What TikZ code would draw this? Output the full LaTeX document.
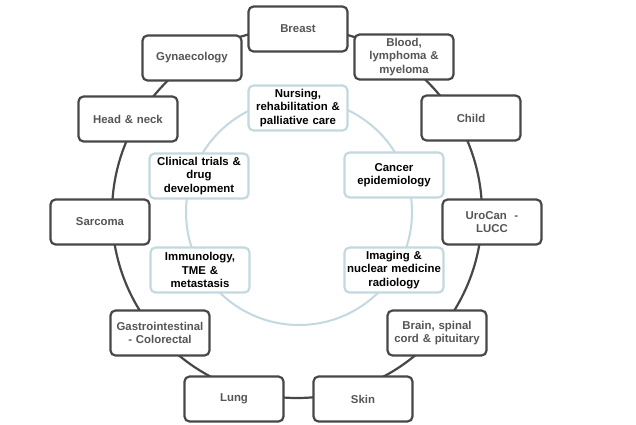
\documentclass[tikz,border=0pt]{standalone}
\usepackage{fontspec}
\setmainfont{Liberation Sans}
\definecolor{outerline}{HTML}{474747}
\definecolor{outertext}{HTML}{555555}
\definecolor{innerline}{HTML}{C3D8DF}
\begin{document}
\begin{tikzpicture}[x=1pt,y=-1pt,
  boxbase/.style={rectangle, rounded corners=5pt, minimum width=98pt, minimum height=45pt,
    text width=97pt, align=center, inner sep=1pt, fill=white, line width=2.2pt,
    font=\fontsize{11.4}{13.3}\selectfont\bfseries},
  outerbox/.style={boxbase, draw=outerline, text=outertext},
  innerbox/.style={boxbase, draw=innerline, text=black}]
\useasboundingbox (0,0) rectangle (636,424);
\draw[outerline, line width=2.2pt] (297,213) circle [radius=185pt];
\draw[innerline, line width=2pt] (299,212) circle [radius=113pt];
% outer ring
\node[outerbox] (breast) at (298,29) {Breast};
\node[outerbox] (blood) at (404,57) {Blood,\\lymphoma \&\\myeloma};
\node[outerbox] (child) at (471,118) {Child};
\node[outerbox] (urocan) at (492,222) {UroCan \ -\\LUCC};
\node[outerbox] (brain) at (437,333) {Brain, spinal\\cord \& pituitary};
\node[outerbox] (skin) at (363,399) {Skin};
\node[outerbox] (lung) at (234,399) {Lung};
\node[outerbox] (gastro) at (160,333) {Gastrointestinal\\- Colorectal};
\node[outerbox] (sarcoma) at (100,222) {Sarcoma};
\node[outerbox] (headneck) at (128,119) {Head \& neck};
\node[outerbox] (gyn) at (192,58) {Gynaecology};
% inner ring
\node[innerbox] (nursing) at (298,108) {Nursing,\\rehabilitation \&\\palliative care};
\node[innerbox] (epi) at (394,175) {Cancer\\epidemiology};
\node[innerbox] (imaging) at (394,270) {Imaging \&\\nuclear medicine\\radiology};
\node[innerbox] (immuno) at (200,270) {Immunology,\\TME \&\\metastasis};
\node[innerbox] (clinical) at (199,176) {Clinical trials \&\\drug\\development};
\end{tikzpicture}
\end{document}
